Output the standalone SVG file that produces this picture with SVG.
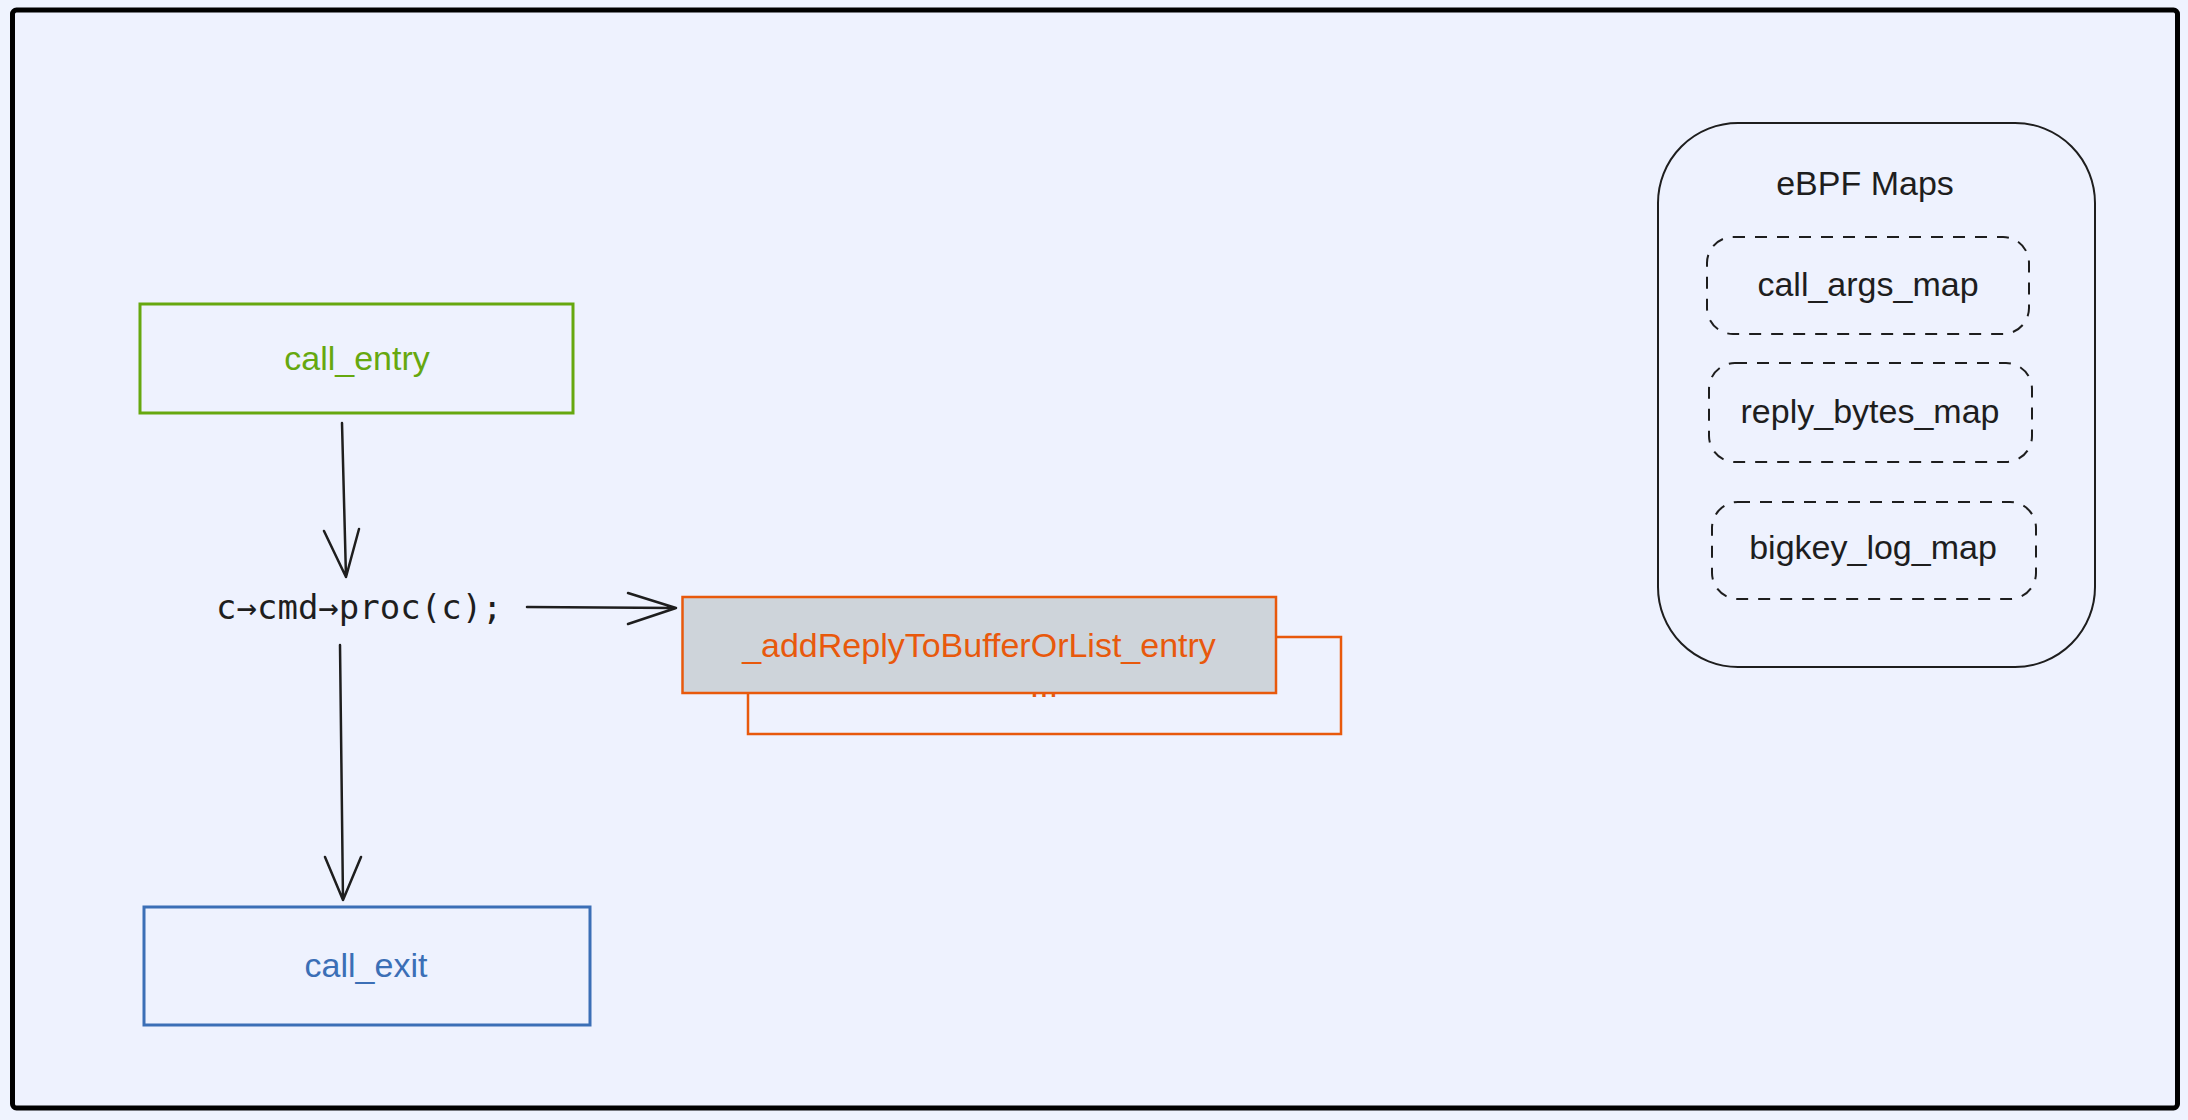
<svg xmlns="http://www.w3.org/2000/svg" width="2188" height="1120" viewBox="0 0 2188 1120">
  <style>
    .hand { font-family: "Liberation Sans", "Noto Sans", sans-serif; font-size: 34px; text-anchor: middle; }
    .mono { font-family: "DejaVu Sans Mono", "Liberation Mono", monospace; font-size: 34px; fill: #1e1e1e; }
    .conn { stroke: #1e1e1e; stroke-width: 2.5; fill: none; stroke-linecap: round; stroke-linejoin: round; }
    .dash { fill: none; stroke: #1e1e1e; stroke-width: 2; stroke-dasharray: 12 10; }
  </style>
  <rect x="0" y="0" width="2188" height="1120" fill="#eff3fe"/>
  <g id="frame">
    <rect x="12.5" y="10" width="2165" height="1098" rx="4" fill="#eef2fe" stroke="#000000" stroke-width="5"/>
  </g>

  <g id="call_entry">
    <rect x="140" y="304" width="433" height="109" fill="none" stroke="#66a80f" stroke-width="3"/>
    <text class="hand" x="357" y="370" fill="#66a80f">call_entry</text>
  </g>

  <g id="proc_call">
    <text class="mono" x="216" y="619">c→cmd→proc(c);</text>
  </g>

  <g id="back_box">
    <rect x="748" y="637" width="593" height="97" fill="none" stroke="#e8590c" stroke-width="2.5"/>
    <text class="hand" x="1044" y="697" fill="#e8590c" font-size="22">...</text>
  </g>

  <g id="addReply_entry">
    <rect x="682.5" y="597" width="593.5" height="96" fill="#ced4da" stroke="#e8590c" stroke-width="2.5"/>
    <text class="hand" x="979" y="657" fill="#e8590c">_addReplyToBufferOrList_entry</text>
  </g>

  <g id="call_exit">
    <rect x="144" y="907" width="446" height="118" fill="none" stroke="#3b6fb6" stroke-width="3"/>
    <text class="hand" x="366" y="977" fill="#3b6fb6">call_exit</text>
  </g>

  <g id="ebpf_maps">
    <rect x="1658" y="123" width="437" height="544" rx="80" fill="none" stroke="#1e1e1e" stroke-width="2"/>
    <text class="hand" x="1865" y="195" fill="#1e1e1e">eBPF Maps</text>
  </g>
  <g id="call_args_map">
    <rect class="dash" x="1707" y="237" width="322" height="97" rx="26"/>
    <text class="hand" x="1868" y="296" fill="#1e1e1e">call_args_map</text>
  </g>
  <g id="reply_bytes_map">
    <rect class="dash" x="1709" y="363" width="323" height="99" rx="26"/>
    <text class="hand" x="1870" y="423" fill="#1e1e1e">reply_bytes_map</text>
  </g>
  <g id="bigkey_log_map">
    <rect class="dash" x="1712" y="502" width="324" height="97" rx="26"/>
    <text class="hand" x="1873" y="559" fill="#1e1e1e">bigkey_log_map</text>
  </g>

  <g id="connectors">
    <path class="conn" d="M342 423 L346 577 M324 531 L346 577 L359 529"/>
    <path class="conn" d="M340 645 L343 900 M325 857 L343 900 L361 857"/>
    <path class="conn" d="M527 607 L676 608 M628 593 L676 608 L628 624"/>
  </g>
</svg>
